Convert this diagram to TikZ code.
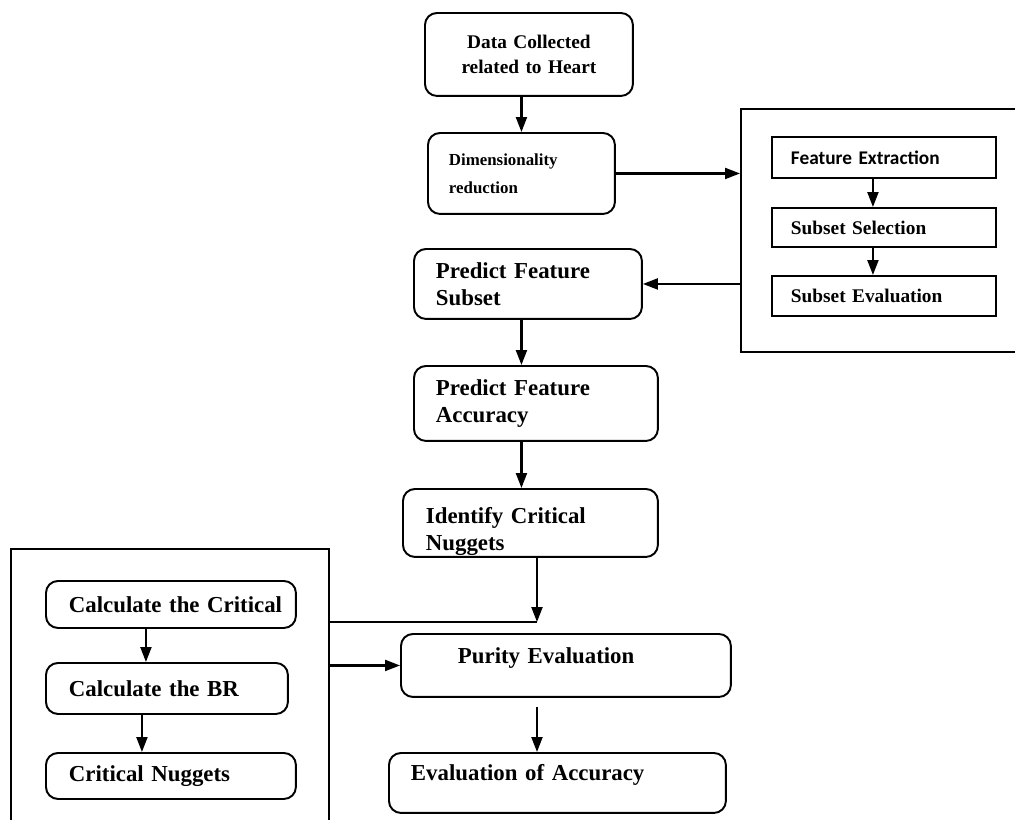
\documentclass[tikz,border=0pt]{standalone}
\usepackage{fontspec}
\setmainfont{Liberation Serif}
\newfontfamily\calfont{Carlito}
\usetikzlibrary{arrows.meta, positioning}

\tikzset{
  rbox/.style={draw, line width=1.1pt, rounded corners=0.24cm, anchor=north west, align=left, inner ysep=0pt, font=\bfseries\fontsize{13}{15.4}\selectfont},
  sbox/.style={draw, line width=1.1pt, anchor=north west, align=left, inner ysep=0pt, font=\bfseries\fontsize{11}{12}\selectfont},
  grp/.style={draw, line width=1.1pt, anchor=north west, inner sep=0pt},
  arr/.style={-{Triangle[length=0.3cm,width=0.22cm]}, line width=1.2pt},
  link/.style={line width=1.2pt}
}

\begin{document}
\begin{tikzpicture}[x=0.02cm, y=-0.02cm]
  \clip (0,0) rectangle (1015,819);

  % main column
  \node[rbox, align=center, inner xsep=0.2cm, text width=3.76cm, minimum height=1.66cm, font=\bfseries\fontsize{11}{14.7}\selectfont] (data) at (424,12) {Data Collected\\related to Heart};
  \node[rbox, inner xsep=0.42cm, text width=2.9cm, minimum height=1.62cm, font=\bfseries\fontsize{9.6}{16}\selectfont] (dim) at (427,132) {Dimensionality\\reduction};
  \node[rbox, inner xsep=0.44cm, text width=3.68cm, minimum height=1.4cm] (subset) at (413,248) {Predict Feature\\Subset};
  \node[rbox, inner xsep=0.44cm, text width=4cm, minimum height=1.5cm] (accuracy) at (413,365) {Predict Feature\\Accuracy};
  \node[rbox, inner xsep=0.46cm, text width=4.18cm, minimum height=1.36cm] (identify) at (402,488) {\rule{0pt}{0.66cm}Identify Critical\\Nuggets};
  \node[rbox, inner xsep=1.14cm, text width=4.32cm, minimum height=1.26cm, text depth=0.4cm] (purity) at (400,633) {Purity Evaluation};
  \node[rbox, inner xsep=0.44cm, text width=5.86cm, minimum height=1.2cm, text depth=0.44cm] (evalacc) at (388,752) {Evaluation of Accuracy};

  % right group
  \node[grp, minimum width=6cm, minimum height=4.86cm] (groupright) at (740,108) {};
  \node[sbox, inner xsep=0.38cm, text width=3.72cm, minimum height=0.82cm, font=\calfont\bfseries\fontsize{11}{12}\selectfont] (feature) at (771,136) {Feature Extraction};
  \node[sbox, inner xsep=0.38cm, text width=3.72cm, minimum height=0.78cm] (selection) at (771,207) {Subset Selection};
  \node[sbox, inner xsep=0.38cm, text width=3.72cm, minimum height=0.8cm] (evaluation) at (771,275) {Subset Evaluation};

  % left group
  \node[grp, minimum width=6.36cm, minimum height=6cm] (groupleft) at (10,548) {};
  \node[rbox, inner xsep=0.1cm, text width=4.8cm, minimum height=0.94cm] (crit) at (45,580) {\hspace*{0.36cm}Calculate the Critical};
  \node[rbox, inner xsep=0.46cm, text width=3.92cm, minimum height=1.02cm] (br) at (45,662) {Calculate the BR};
  \node[rbox, inner xsep=0.46cm, text width=4.08cm, minimum height=0.92cm] (nuggets) at (45,752) {Critical Nuggets};

  \coordinate (join) at (537,622);

  \draw[arr] (data.south -| dim.north) -- (dim.north);
  \draw[arr] (dim.east) -- (dim.east -| groupright.west);
  \draw[arr] (subset.east -| groupright.west) -- (subset.east);
  \draw[arr] (subset.south -| dim.south) -- (dim.south |- accuracy.north);
  \draw[arr] (accuracy.south -| dim.south) -- (dim.south |- identify.north);

  \draw[arr] ([xshift=-0.22cm]feature.south) -- ([xshift=-0.22cm]feature.south |- selection.north);
  \draw[arr] ([xshift=-0.22cm]selection.south) -- ([xshift=-0.22cm]selection.south |- evaluation.north);

  \draw[arr] ([xshift=-0.5cm]crit.south) -- ([xshift=-0.5cm]crit.south |- br.north);
  \draw[arr] ([xshift=-0.5cm]br.south) -- ([xshift=-0.5cm]br.south |- nuggets.north);

  \draw[arr] (identify.south -| join) -- (join);
  \draw[link] (groupleft.east |- join) -- (join);
  \draw[arr] (groupleft.east |- purity.west) -- (purity.west);
  \draw[arr] ([yshift=-0.18cm]purity.south -| join) -- (evalacc.north -| join);
\end{tikzpicture}
\end{document}
